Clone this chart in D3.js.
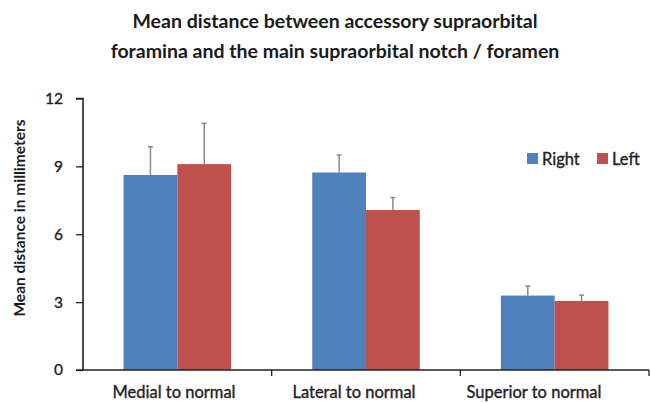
<!DOCTYPE html>
<html><head><meta charset="utf-8">
<script src="https://cdn.jsdelivr.net/npm/d3@7"></script>
<style>body{margin:0;background:#fff}svg{display:block}</style>
</head><body>
<svg id="c" width="651" height="403"></svg>
<script>
const categories = ["Medial to normal", "Lateral to normal", "Superior to normal"];
const seriesNames = ["Right", "Left"];
const rightValues = [8.62, 8.73, 3.29];
const leftValues = [9.1, 7.07, 3.05];
const rightErrors = [1.25, 0.77, 0.42];
const leftErrors = [1.8, 0.55, 0.26];
const yTicks = [0, 3, 6, 9, 12];
const titleLines = ["Mean distance between accessory supraorbital", "foramina and the main supraorbital notch / foramen"];
const yLabel = "Mean distance in millimeters";

(function () {
const colors = {Right: "#4F81BD", Left: "#C0504D"};
const font = "Lato, 'Open Sans', sans-serif";
const ink = "#222";
const svg = d3.select("#c");
const pL = 83, pR = 649, pT = 98.5, pB = 370;

const y = d3.scaleLinear().domain([0, 12]).range([pB, pT]);
const x0 = d3.scaleBand().domain(categories).range([pL, pR]).paddingInner(0.43).paddingOuter(0.215);
const x1 = d3.scaleBand().domain(seriesNames).range([0, x0.bandwidth()]);
const xLabel = d3.scalePoint().domain(categories).range([174, 534]);

const data = categories.map((c, i) => ({
  cat: c,
  vals: [
    {s: "Right", v: rightValues[i], e: rightErrors[i]},
    {s: "Left", v: leftValues[i], e: leftErrors[i]}
  ]
}));

// title
svg.append("g").selectAll("text").data(titleLines).join("text")
  .attr("x", 335).attr("y", (d, i) => 28 + i * 29.5)
  .attr("text-anchor", "middle").attr("font-family", font).attr("font-weight", "bold")
  .attr("font-size", 19.5).attr("fill", "#1a1a1a").text(d => d);

// bars
const g = svg.append("g");
const groups = g.selectAll("g.grp").data(data).join("g").attr("class", "grp")
  .attr("transform", d => `translate(${x0(d.cat)},0)`);
groups.selectAll("line.err").data(d => d.vals).join("line").attr("class", "err")
  .attr("x1", d => x1(d.s) + x1.bandwidth() / 2).attr("x2", d => x1(d.s) + x1.bandwidth() / 2)
  .attr("y1", d => y(d.v)).attr("y2", d => y(d.v + d.e))
  .attr("stroke", "#8a8a8a").attr("stroke-width", 1.5);
groups.selectAll("line.cap").data(d => d.vals).join("line").attr("class", "cap")
  .attr("x1", d => x1(d.s) + x1.bandwidth() / 2 - 2.5).attr("x2", d => x1(d.s) + x1.bandwidth() / 2 + 2.5)
  .attr("y1", d => y(d.v + d.e)).attr("y2", d => y(d.v + d.e))
  .attr("stroke", "#8a8a8a").attr("stroke-width", 1.5);
groups.selectAll("rect").data(d => d.vals).join("rect")
  .attr("x", d => x1(d.s)).attr("width", x1.bandwidth())
  .attr("y", d => y(d.v)).attr("height", d => y(0) - y(d.v))
  .attr("fill", d => colors[d.s]);

// y axis
const yAxis = svg.append("g").attr("transform", `translate(${pL},0)`)
  .call(d3.axisLeft(y).tickValues(yTicks).tickSize(7).tickPadding(13));
yAxis.select(".domain").attr("stroke", ink).attr("stroke-width", 1.6).attr("d", `M-7,${pT}H0V${pB}`);
yAxis.selectAll(".tick line").attr("stroke", ink).attr("stroke-width", 1.3);
yAxis.selectAll(".tick text").attr("font-family", font).attr("font-size", 15.5).attr("fill", ink)
  .attr("stroke", ink).attr("stroke-width", 0.35);

// x axis
const step = x0.step();
const xAxis = svg.append("g").attr("transform", `translate(0,${pB})`);
xAxis.append("line").attr("x1", pL - 7).attr("x2", pR).attr("y1", 0).attr("y2", 0)
  .attr("stroke", ink).attr("stroke-width", 1.6);
xAxis.selectAll("line.tk").data(categories).join("line").attr("class", "tk")
  .attr("x1", d => x0(d) + x0.bandwidth() + x0.paddingOuter() * step)
  .attr("x2", d => x0(d) + x0.bandwidth() + x0.paddingOuter() * step)
  .attr("y1", 0).attr("y2", 6).attr("stroke", ink).attr("stroke-width", 1.3);
xAxis.selectAll("text").data(categories).join("text")
  .attr("x", d => xLabel(d)).attr("y", 28)
  .attr("text-anchor", "middle").attr("font-family", font).attr("font-size", 16.5).attr("fill", ink)
  .attr("stroke", ink).attr("stroke-width", 0.35)
  .text(d => d);

// y label
svg.append("text").attr("transform", `translate(24.5,218) rotate(-90)`)
  .attr("text-anchor", "middle").attr("font-family", font).attr("font-weight", "bold")
  .attr("font-size", 15.5).attr("fill", "#1a1a1a").text(yLabel);

// legend
const legendX = [527, 597];
const lg = svg.append("g").selectAll("g").data(seriesNames).join("g")
  .attr("transform", (d, i) => `translate(${legendX[i]},153)`);
lg.append("rect").attr("width", 11).attr("height", 11).attr("fill", d => colors[d]);
lg.append("text").attr("x", 15).attr("y", 11.5).attr("font-family", font).attr("font-size", 16.5)
  .attr("fill", ink).attr("stroke", ink).attr("stroke-width", 0.35).text(d => d);
})();
</script>
</body></html>
